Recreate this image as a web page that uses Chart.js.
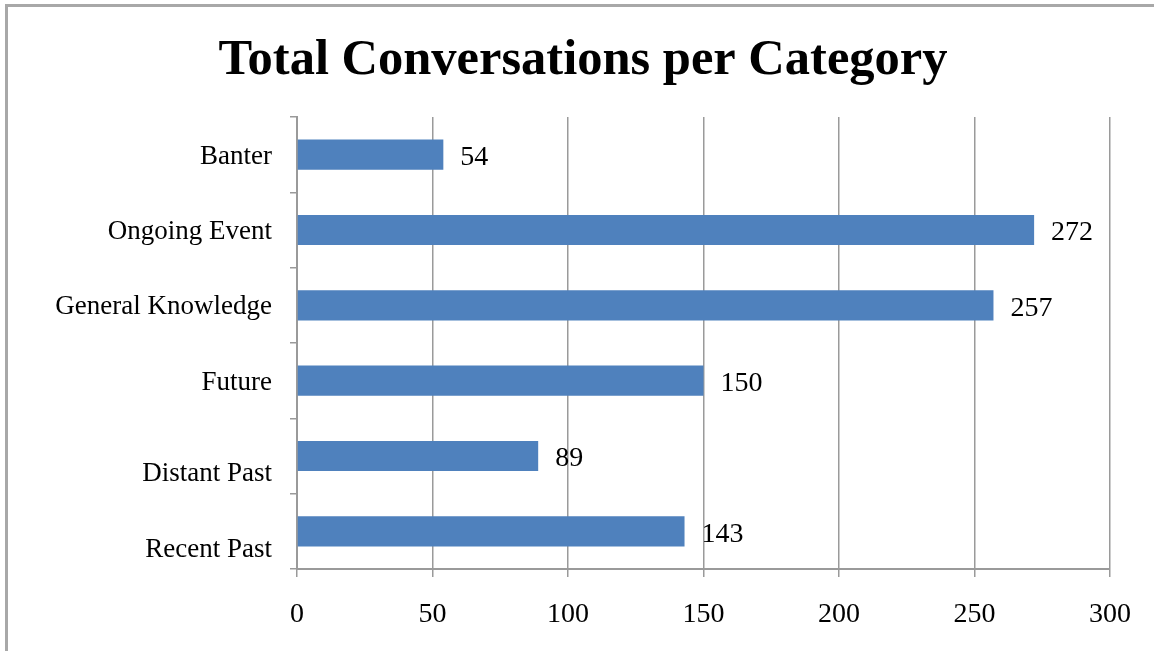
<!DOCTYPE html>
<html>
<head>
<meta charset="utf-8">
<script src="https://cdn.jsdelivr.net/npm/chart.js@4"></script>
<style>
  html, body { margin: 0; padding: 0; background: #fff; }
  #wrap { position: relative; width: 1154px; height: 651px; overflow: hidden; }
  #frame { position: absolute; left: 5px; top: 4px; right: -10px; bottom: -10px;
           border-top: 3px solid #a8a8a8; border-left: 3px solid #a8a8a8; }
  canvas { position: absolute; left: 0; top: 0; }
</style>
</head>
<body>
<div id="wrap">
  <div id="frame"></div>
  <canvas id="chart" width="1154" height="651"></canvas>
</div>
<script>
// Conversation categories, listed top to bottom
const categories = ['Banter', 'Ongoing Event', 'General Knowledge', 'Future', 'Distant Past', 'Recent Past'];
// Number of conversations in each category
const conversations = [54, 272, 257, 150, 89, 143];
// Value axis ticks
const axisMin = 0;
const axisMax = 300;
const axisStep = 50;
// Category labels that sit a line lower beside their bar
const loweredLabels = ['Distant Past', 'Recent Past'];

const serif = '"Liberation Serif", "Times New Roman", serif';
const gridGray = '#9a9a9a';

// Writes each bar's value just past its end
const valueLabels = {
  id: 'valueLabels',
  afterDatasetsDraw(chart) {
    const ctx = chart.ctx;
    const meta = chart.getDatasetMeta(0);
    ctx.save();
    ctx.font = '28px ' + serif;
    ctx.fillStyle = '#000';
    ctx.textAlign = 'left';
    ctx.textBaseline = 'middle';
    meta.data.forEach((bar, i) => {
      const p = bar.getProps(['x', 'y'], true);
      ctx.fillText(String(chart.data.datasets[0].data[i]), p.x + 17, p.y + 3);
    });
    ctx.restore();
  }
};

new Chart(document.getElementById('chart'), {
  type: 'bar',
  data: {
    labels: categories,
    datasets: [{
      data: conversations,
      backgroundColor: '#4f81bd',
      borderWidth: 0,
      categoryPercentage: 0.8,
      barPercentage: 0.5
    }]
  },
  options: {
    indexAxis: 'y',
    responsive: false,
    animation: false,
    devicePixelRatio: 1,
    layout: { padding: { left: 56, right: 44, top: 0, bottom: 22 } },
    plugins: {
      legend: { display: false },
      tooltip: { enabled: false },
      title: {
        display: true,
        text: 'Total Conversations per Category',
        color: '#000',
        font: { family: serif, size: 50.5, weight: 'bold', lineHeight: 1.2 },
        padding: { top: 31, bottom: 25.4 }
      }
    },
    scales: {
      x: {
        min: axisMin,
        max: axisMax,
        afterFit(scale) { scale.height = 60; },
        ticks: {
          stepSize: axisStep,
          color: '#000',
          font: { family: serif, size: 28 },
          padding: 21,
          maxRotation: 0
        },
        grid: {
          color: gridGray,
          lineWidth: 1.5,
          tickLength: 8,
          drawTicks: true
        },
        border: { color: gridGray, width: 2 }
      },
      y: {
        afterFit(scale) { scale.width = 241; },
        ticks: {
          color: '#000',
          font: { family: serif, size: 27 },
          padding: 18,
          labelOffset: 2,
          callback(value) {
            const name = this.getLabelForValue(value);
            return loweredLabels.includes(name) ? ['', name] : name;
          }
        },
        grid: {
          color: gridGray,
          lineWidth: 1.5,
          offset: true,
          drawOnChartArea: false,
          drawTicks: true,
          tickLength: 7
        },
        border: { color: gridGray, width: 2 }
      }
    }
  },
  plugins: [valueLabels]
});
</script>
</body>
</html>
